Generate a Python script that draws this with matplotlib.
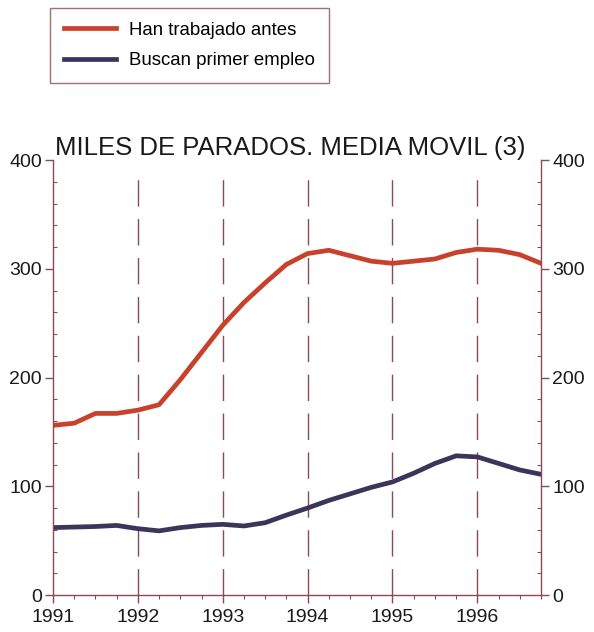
import numpy as np
import matplotlib.pyplot as plt
from matplotlib.ticker import MultipleLocator
from matplotlib.lines import Line2D

plt.rcParams['font.family'] = ['Liberation Sans', 'DejaVu Sans']

# quarterly moving averages, 1991 Q1 to 1996 Q4 (thousands)
years = ['1991', '1992', '1993', '1994', '1995', '1996']
han_trabajado = [156, 158, 167, 167, 170, 175, 198, 223, 248, 269, 287, 304,
                 314, 317, 312, 307, 305, 307, 309, 315, 318, 317, 313, 305]
buscan_primer = [62, 62.5, 63, 64, 61, 59, 62, 64, 65, 63.5, 66.5, 73.5,
                 80, 87, 93, 99, 104, 112, 121, 128, 127, 121, 115, 111]

quarters = np.arange(len(han_trabajado))
axis_col = '#8c4a58'

fig = plt.figure(figsize=(5.94, 6.32), dpi=100)
ax = fig.add_axes([0.0892, 0.0585, 0.8216, 0.6883])

ax.plot(quarters, han_trabajado, color='#c8412c', lw=3.4, solid_joinstyle='round')
ax.plot(quarters, buscan_primer, color='#3b355c', lw=3.4, solid_joinstyle='round')

# dashed year separators
for q in range(4, len(quarters), 4):
    ax.plot([q, q], [0, 392], color=axis_col, lw=1.0, dashes=(19, 9), zorder=1)

ax.set_xlim(0, len(quarters) - 1)
ax.set_ylim(0, 400)
ax.set_xticks(np.arange(0, len(quarters), 4))
ax.set_xticklabels(years)
ax.xaxis.set_minor_locator(MultipleLocator(1))
ax.yaxis.set_major_locator(MultipleLocator(100))
ax.yaxis.set_minor_locator(MultipleLocator(20))

ax.spines['top'].set_visible(False)
for s in ['left', 'right', 'bottom']:
    ax.spines[s].set_color(axis_col)
    ax.spines[s].set_linewidth(1.0)

ax.tick_params(axis='both', which='both', colors=axis_col, labelcolor='#1a1a1a',
               labelsize=14, left=True, right=True, labelright=True)
ax.tick_params(axis='both', which='major', length=6, width=1.0, pad=2)
ax.tick_params(axis='x', which='major', pad=4)
ax.tick_params(axis='y', which='minor', length=3, width=0.8, direction='in')
ax.tick_params(axis='x', which='minor', length=3, width=0.8)

ax.set_title('MILES DE PARADOS. MEDIA MOVIL (3)', fontsize=18.5, color='#1a1a1a',
             loc='left', x=0.005, pad=3)

handles = [Line2D([], [], color='#c8412c', lw=3.4),
           Line2D([], [], color='#3b355c', lw=3.4)]
leg = fig.legend(handles, ['Han trabajado antes', 'Buscan primer empleo'],
                 loc='upper left', bbox_to_anchor=(50 / 594, 1 - 8 / 632),
                 borderaxespad=0, fontsize=13.4, frameon=True, fancybox=False,
                 borderpad=0.75, handlelength=2.8, handletextpad=0.7,
                 labelspacing=0.7)
leg.get_frame().set_edgecolor(axis_col)
leg.get_frame().set_linewidth(1.0)

fig.savefig('out.png', dpi=100)
